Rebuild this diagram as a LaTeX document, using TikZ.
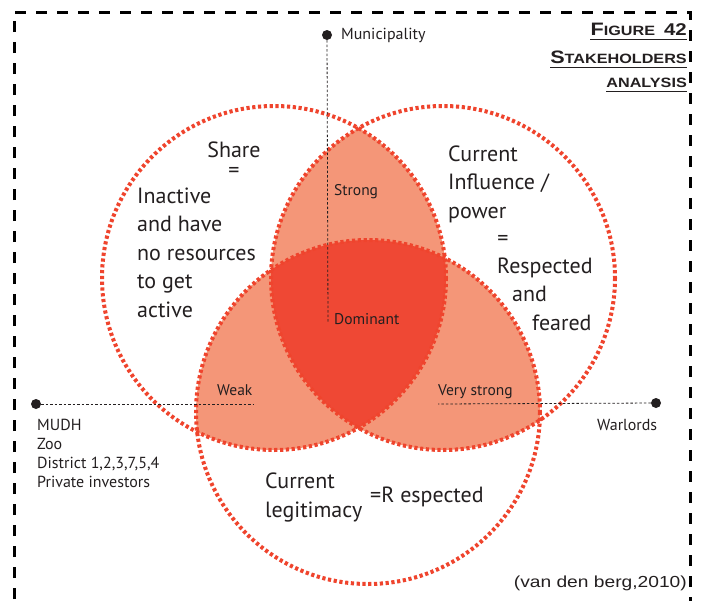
\documentclass[tikz,border=0pt]{standalone}
\usepackage{fontspec}
\setmainfont{PT Sans}
\newfontfamily\titlefont[FakeStretch=1.2]{Liberation Sans}
\usepackage{xcolor}
\usepackage{tikz}
\definecolor{ringred}{RGB}{239,68,45}
\definecolor{lenssalmon}{RGB}{244,150,120}
\definecolor{corered}{RGB}{239,72,52}
\definecolor{inkgray}{RGB}{35,31,32}

\begin{document}
\begin{tikzpicture}[x=1pt,y=-1pt,
  ring/.style={ringred, line width=4pt, dash pattern=on 3.2pt off 2.6pt},
  bigtext/.style={inkgray, inner sep=0pt, font=\fontsize{22}{28.5}\selectfont, align=left},
  smalltext/.style={inkgray, inner sep=0pt, font=\fontsize{15.5}{18}\selectfont},
  sidetext/.style={inkgray, inner sep=0pt, font=\fontsize{16}{18.7}\selectfont, align=left},
  titletext/.style={inkgray, inner sep=0pt, font=\titlefont\bfseries},
  blob/.style={circle, fill=inkgray, inner sep=0pt, minimum size=10pt},
  leader/.style={inkgray, line width=0.8pt, dash pattern=on 2.5pt off 2pt},
  frame/.style={black, line width=3pt, dash pattern=on 11pt off 10pt}]
\useasboundingbox (0,0) rectangle (707,600);

% frame
\draw[frame] (14,620) -- (14,12) -- (690,12) -- (690,620);

% circle centres
\coordinate (cl) at (274,278);
\coordinate (cr) at (443,278);
\coordinate (cb) at (368,412);

% overlaps
\begin{scope}
  \clip (cl) circle (172);
  \fill[lenssalmon] (cr) circle (172);
  \fill[lenssalmon] (cb) circle (172);
\end{scope}
\begin{scope}
  \clip (cr) circle (172);
  \fill[lenssalmon] (cb) circle (172);
\end{scope}
\begin{scope}
  \clip (cl) circle (172);
  \clip (cr) circle (172);
  \fill[corered] (cb) circle (172);
\end{scope}

\draw[ring] (cl) circle (172);
\draw[ring] (cr) circle (172);
\draw[ring] (cb) circle (172);

% stakeholders
\node[blob] (muni) at (327,35) {};
\node[blob] (mudh) at (36,404) {};
\node[blob] (warl) at (656,403) {};
\coordinate (muniend) at (328,323);
\coordinate (mudhend) at (253,404);
\coordinate (warlend) at (438,404);
\draw[leader] (muni) -- (muniend);
\draw[leader] (mudh) -- (mudhend);
\draw[leader] (warl) -- (warlend);

\node[sidetext, anchor=base west] (munilabel) at (341,39) {Municipality};
\node[sidetext, anchor=base west] (mudhlabel) at (37,487) {MUDH\\Zoo\\District 1,2,3,7,5,4\\Private investors};
\node[sidetext, anchor=base west] (warllabel) at (597,430) {Warlords};

% circle texts
\node[bigtext, anchor=base] (share) at (234,157) {Share};
\node[bigtext] (shareeq) at (234,172) {=};
\node[bigtext, anchor=base west] (inactive) at (137,317) {Inactive\\and have\\no resources\\to get\\active};
\node[bigtext, anchor=base west] (influence) at (448,218) {Current\\Influence /\\power};
\node[bigtext] (influenceeq) at (503,240) {=};
\node[bigtext, anchor=base west] (respected) at (497,330) {Respected\\\hspace*{15pt}and\\\hspace*{35pt}feared};
\node[bigtext, anchor=base west] (legitimacy) at (265,517) {Current\\legitimacy};
\node[bigtext, anchor=base west] (legitimacyeq) at (370,502) {=R espected};

% overlap labels
\node[smalltext, anchor=base west] (strong) at (334,195) {Strong};
\node[smalltext, anchor=base west] (dominant) at (334,324) {Dominant};
\node[smalltext, anchor=base west] (weak) at (217,395) {Weak};
\node[smalltext, anchor=base west] (verystrong) at (438,395) {Very strong};

% title
\node[titletext, anchor=base east] (figtitle) at (687,35)
  {\fontsize{18}{18}\selectfont F\fontsize{13.5}{18}\selectfont IGURE\ \ \fontsize{17}{18}\selectfont 42};
\node[titletext, anchor=base east] (stake) at (687,63)
  {\fontsize{18}{18}\selectfont S\fontsize{13.5}{18}\selectfont TAKEHOLDERS};
\node[titletext, anchor=base east] (analysis) at (687,87)
  {\fontsize{13.5}{18}\selectfont ANALYSIS};
\draw[inkgray, line width=1.6pt] ([yshift=-4pt]figtitle.south west) -- ([yshift=-4pt]figtitle.south east);
\draw[inkgray, line width=1.6pt] ([yshift=-4pt]stake.south west) -- ([yshift=-4pt]stake.south east);
\draw[inkgray, line width=1.6pt] ([yshift=-4pt]analysis.south west) -- ([yshift=-4pt]analysis.south east);

% source
\node[inkgray, inner sep=0pt, anchor=base east, font=\titlefont\fontsize{16}{16}\selectfont] (source) at (687,587) {(van den berg,2010)};
\end{tikzpicture}
\end{document}
